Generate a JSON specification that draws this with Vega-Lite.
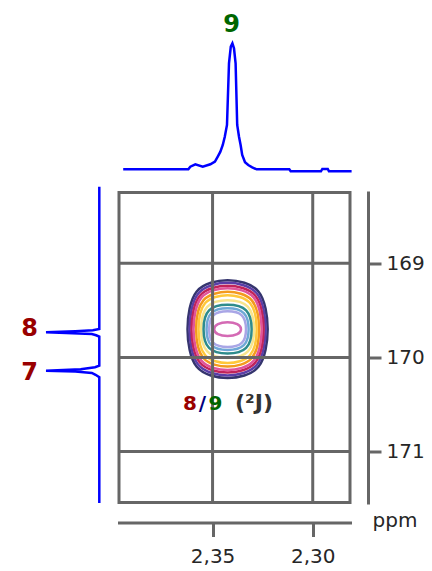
{
  "$schema": "https://vega.github.io/schema/vega-lite/v6.json",
  "padding": 0,
  "autosize": {"type": "pad"},
  "background": "white",
  "config": {
    "view": {"stroke": null},
    "axis": {
      "domainColor": "#666666", "domainWidth": 3, "domainCap": "square",
      "tickColor": "#666666", "tickWidth": 3,
      "labelColor": "#262626", "labelFont": "DejaVu Sans", "labelFontSize": 20,
      "titleColor": "#262626", "titleFont": "DejaVu Sans", "titleFontSize": 20, "titleFontWeight": "normal",
      "labelFlush": false, "labelOverlap": false, "labelBound": false
    }
  },
  "datasets": {
    "top": [
      {"ppm": 2.3946, "i": 0}, {"ppm": 2.3621, "i": 0}, {"ppm": 2.3611, "i": 0.021}, {"ppm": 2.3586, "i": 0.040},
      {"ppm": 2.3549, "i": 0.021}, {"ppm": 2.3511, "i": 0.040}, {"ppm": 2.3488, "i": 0.061}, {"ppm": 2.3474, "i": 0.101},
      {"ppm": 2.3461, "i": 0.140}, {"ppm": 2.3449, "i": 0.193}, {"ppm": 2.3439, "i": 0.259}, {"ppm": 2.3428, "i": 0.352},
      {"ppm": 2.3418, "i": 0.841}, {"ppm": 2.3409, "i": 0.974}, {"ppm": 2.3401, "i": 1.0}, {"ppm": 2.3393, "i": 0.960},
      {"ppm": 2.3385, "i": 0.841}, {"ppm": 2.3377, "i": 0.352}, {"ppm": 2.3368, "i": 0.259}, {"ppm": 2.3360, "i": 0.193},
      {"ppm": 2.3352, "i": 0.114}, {"ppm": 2.3338, "i": 0.056}, {"ppm": 2.3322, "i": 0.034}, {"ppm": 2.3302, "i": 0.016},
      {"ppm": 2.3280, "i": 0}, {"ppm": 2.3117, "i": 0}, {"ppm": 2.3110, "i": -0.016}, {"ppm": 2.2959, "i": -0.016},
      {"ppm": 2.2952, "i": 0.003}, {"ppm": 2.2925, "i": 0.003}, {"ppm": 2.2919, "i": -0.016}, {"ppm": 2.2806, "i": -0.016}
    ],
    "left": [
      {"c": 168.19, "i": 0}, {"c": 169.699, "i": 0}, {"c": 169.712, "i": 0.12}, {"c": 169.722, "i": 0.45},
      {"c": 169.733, "i": 1.0}, {"c": 169.742, "i": 0.62}, {"c": 169.752, "i": 0.14}, {"c": 169.765, "i": 0.06},
      {"c": 169.780, "i": 0}, {"c": 170.088, "i": 0}, {"c": 170.105, "i": 0.08}, {"c": 170.125, "i": 0.35},
      {"c": 170.141, "i": 1.0}, {"c": 170.150, "i": 0.45}, {"c": 170.165, "i": 0.14}, {"c": 170.185, "i": 0.07},
      {"c": 170.211, "i": 0}, {"c": 171.546, "i": 0}
    ],
    "contours": [
      {"ring": "r01", "k": 0, "h": 2.3625, "c": 169.700}, {"ring": "r01", "k": 1, "h": 2.3579, "c": 170.100},
      {"ring": "r01", "k": 2, "h": 2.3425, "c": 170.219}, {"ring": "r01", "k": 3, "h": 2.3271, "c": 170.100},
      {"ring": "r01", "k": 4, "h": 2.3225, "c": 169.700}, {"ring": "r01", "k": 5, "h": 2.3271, "c": 169.300},
      {"ring": "r01", "k": 6, "h": 2.3425, "c": 169.181}, {"ring": "r01", "k": 7, "h": 2.3579, "c": 169.300},
      {"ring": "r02", "k": 0, "h": 2.3615, "c": 169.700}, {"ring": "r02", "k": 1, "h": 2.35713, "c": 170.0788},
      {"ring": "r02", "k": 2, "h": 2.3425, "c": 170.192}, {"ring": "r02", "k": 3, "h": 2.32787, "c": 170.0788},
      {"ring": "r02", "k": 4, "h": 2.3235, "c": 169.700}, {"ring": "r02", "k": 5, "h": 2.32787, "c": 169.3212},
      {"ring": "r02", "k": 6, "h": 2.3425, "c": 169.208}, {"ring": "r02", "k": 7, "h": 2.35713, "c": 169.3212},
      {"ring": "r03", "k": 0, "h": 2.3605, "c": 169.700}, {"ring": "r03", "k": 1, "h": 2.35636, "c": 170.0542},
      {"ring": "r03", "k": 2, "h": 2.3425, "c": 170.160}, {"ring": "r03", "k": 3, "h": 2.32864, "c": 170.0542},
      {"ring": "r03", "k": 4, "h": 2.3245, "c": 169.700}, {"ring": "r03", "k": 5, "h": 2.32864, "c": 169.3458},
      {"ring": "r03", "k": 6, "h": 2.3425, "c": 169.240}, {"ring": "r03", "k": 7, "h": 2.35636, "c": 169.3458},
      {"ring": "r04", "k": 0, "h": 2.3595, "c": 169.700}, {"ring": "r04", "k": 1, "h": 2.35559, "c": 170.0342},
      {"ring": "r04", "k": 2, "h": 2.3425, "c": 170.134}, {"ring": "r04", "k": 3, "h": 2.32941, "c": 170.0342},
      {"ring": "r04", "k": 4, "h": 2.3255, "c": 169.700}, {"ring": "r04", "k": 5, "h": 2.32941, "c": 169.3658},
      {"ring": "r04", "k": 6, "h": 2.3425, "c": 169.266}, {"ring": "r04", "k": 7, "h": 2.35559, "c": 169.3658},
      {"ring": "r05", "k": 0, "h": 2.3582, "c": 169.700}, {"ring": "r05", "k": 1, "h": 2.35459, "c": 170.0057},
      {"ring": "r05", "k": 2, "h": 2.3425, "c": 170.097}, {"ring": "r05", "k": 3, "h": 2.33041, "c": 170.0057},
      {"ring": "r05", "k": 4, "h": 2.3268, "c": 169.700}, {"ring": "r05", "k": 5, "h": 2.33041, "c": 169.3943},
      {"ring": "r05", "k": 6, "h": 2.3425, "c": 169.303}, {"ring": "r05", "k": 7, "h": 2.35459, "c": 169.3943},
      {"ring": "r06", "k": 0, "h": 2.3570, "c": 169.700}, {"ring": "r06", "k": 1, "h": 2.35367, "c": 169.9772},
      {"ring": "r06", "k": 2, "h": 2.3425, "c": 170.060}, {"ring": "r06", "k": 3, "h": 2.33133, "c": 169.9772},
      {"ring": "r06", "k": 4, "h": 2.3280, "c": 169.700}, {"ring": "r06", "k": 5, "h": 2.33133, "c": 169.4228},
      {"ring": "r06", "k": 6, "h": 2.3425, "c": 169.340}, {"ring": "r06", "k": 7, "h": 2.35367, "c": 169.4228},
      {"ring": "r07", "k": 0, "h": 2.3557, "c": 169.700}, {"ring": "r07", "k": 1, "h": 2.35266, "c": 169.9364},
      {"ring": "r07", "k": 2, "h": 2.3425, "c": 170.007}, {"ring": "r07", "k": 3, "h": 2.33234, "c": 169.9364},
      {"ring": "r07", "k": 4, "h": 2.3293, "c": 169.700}, {"ring": "r07", "k": 5, "h": 2.33234, "c": 169.4636},
      {"ring": "r07", "k": 6, "h": 2.3425, "c": 169.393}, {"ring": "r07", "k": 7, "h": 2.35266, "c": 169.4636},
      {"ring": "r08", "k": 0, "h": 2.3545, "c": 169.700}, {"ring": "r08", "k": 1, "h": 2.35174, "c": 169.8994},
      {"ring": "r08", "k": 2, "h": 2.3425, "c": 169.959}, {"ring": "r08", "k": 3, "h": 2.33326, "c": 169.8994},
      {"ring": "r08", "k": 4, "h": 2.3305, "c": 169.700}, {"ring": "r08", "k": 5, "h": 2.33326, "c": 169.5006},
      {"ring": "r08", "k": 6, "h": 2.3425, "c": 169.441}, {"ring": "r08", "k": 7, "h": 2.35174, "c": 169.5006},
      {"ring": "r09", "k": 0, "h": 2.3530, "c": 169.700}, {"ring": "r09", "k": 1, "h": 2.35059, "c": 169.8709},
      {"ring": "r09", "k": 2, "h": 2.3425, "c": 169.922}, {"ring": "r09", "k": 3, "h": 2.33441, "c": 169.8709},
      {"ring": "r09", "k": 4, "h": 2.3320, "c": 169.700}, {"ring": "r09", "k": 5, "h": 2.33441, "c": 169.5291},
      {"ring": "r09", "k": 6, "h": 2.3425, "c": 169.478}, {"ring": "r09", "k": 7, "h": 2.35059, "c": 169.5291},
      {"ring": "r10", "k": 0, "h": 2.3517, "c": 169.700}, {"ring": "r10", "k": 1, "h": 2.34958, "c": 169.8463},
      {"ring": "r10", "k": 2, "h": 2.3425, "c": 169.890}, {"ring": "r10", "k": 3, "h": 2.33542, "c": 169.8463},
      {"ring": "r10", "k": 4, "h": 2.3333, "c": 169.700}, {"ring": "r10", "k": 5, "h": 2.33542, "c": 169.5537},
      {"ring": "r10", "k": 6, "h": 2.3425, "c": 169.510}, {"ring": "r10", "k": 7, "h": 2.34958, "c": 169.5537},
      {"ring": "r11", "k": 0, "h": 2.3492, "c": 169.700}, {"ring": "r11", "k": 1, "h": 2.34732, "c": 169.7533},
      {"ring": "r11", "k": 2, "h": 2.3425, "c": 169.774}, {"ring": "r11", "k": 3, "h": 2.33768, "c": 169.7533},
      {"ring": "r11", "k": 4, "h": 2.3358, "c": 169.700}, {"ring": "r11", "k": 5, "h": 2.33768, "c": 169.6467},
      {"ring": "r11", "k": 6, "h": 2.3425, "c": 169.626}, {"ring": "r11", "k": 7, "h": 2.34732, "c": 169.6467}
    ],
    "gridV": [{"h": 2.35}, {"h": 2.30}],
    "gridH": [{"c": 169}, {"c": 170}, {"c": 171}]
  },
  "columns": 2,
  "spacing": {"row": 12.5, "column": 10},
  "bounds": "flush",
  "concat": [
    {
      "width": 109, "height": 180,
      "data": {"values": []},
      "mark": "point"
    },
    {
      "width": 231, "height": 180,
      "encoding": {
        "x": {"field": "ppm", "type": "quantitative", "scale": {"domain": [2.2814, 2.3967], "reverse": true, "nice": false, "zero": false}, "axis": null},
        "y": {"field": "i", "type": "quantitative", "scale": {"domain": [-0.0849, 1.3437], "nice": false, "zero": false}, "axis": null}
      },
      "layer": [
        {"data": {"name": "top"}, "mark": {"type": "line", "color": "#0000ff", "strokeWidth": 2.5}},
        {"data": {"values": [{"label": "9", "ppm": 2.3405, "i": 1.087}]},
         "mark": {"type": "text", "font": "DejaVu Sans", "fontWeight": "bold", "fontSize": 24, "color": "#006600", "align": "center", "baseline": "alphabetic"},
         "encoding": {"text": {"field": "label"}}}
      ]
    },
    {
      "width": 109, "height": 310,
      "encoding": {
        "x": {"field": "i", "type": "quantitative", "scale": {"domain": [-0.182, 1.863], "reverse": true, "nice": false, "zero": false}, "axis": null},
        "y": {"field": "c", "type": "quantitative", "scale": {"domain": [168.25, 171.54], "reverse": true, "nice": false, "zero": false}, "axis": null}
      },
      "layer": [
        {"data": {"name": "left"}, "mark": {"type": "line", "color": "#0000ff", "strokeWidth": 2.5},
         "encoding": {"order": {"field": "c", "type": "quantitative"}}},
        {"data": {"values": [{"label": "8", "i": 1.306, "c": 169.770}, {"label": "7", "i": 1.306, "c": 170.240}]},
         "mark": {"type": "text", "font": "DejaVu Sans", "fontWeight": "bold", "fontSize": 24, "color": "#990000", "align": "center", "baseline": "alphabetic"},
         "encoding": {"text": {"field": "label"}}}
      ]
    },
    {
      "width": 231, "height": 310,
      "view": {"stroke": "#666666", "strokeWidth": 3},
      "layer": [
        {"data": {"name": "contours"},
         "mark": {"type": "line", "interpolate": "cardinal-closed", "strokeWidth": 2.5},
         "encoding": {
           "x": {"field": "h", "type": "quantitative", "scale": {"domain": [2.2814, 2.3967], "reverse": true, "nice": false, "zero": false},
                 "axis": {"orient": "bottom", "offset": 20, "values": [2.35, 2.3], "labelExpr": "replace(format(datum.value, '.2f'), '.', ',')", "grid": false, "title": "ppm", "titleX": 253, "titleY": 4, "titleAlign": "left", "titleBaseline": "alphabetic", "tickSize": 14, "labelPadding": 10}},
           "y": {"field": "c", "type": "quantitative", "scale": {"domain": [168.25, 171.54], "reverse": true, "nice": false, "zero": false},
                 "axis": {"orient": "right", "offset": 18, "values": [169, 170, 171], "format": "d", "grid": false, "title": null, "tickSize": 13, "labelPadding": 5}},
           "color": {"field": "ring", "type": "nominal", "legend": null,
                     "scale": {"domain": ["r01","r02","r03","r04","r05","r06","r07","r08","r09","r10","r11"],
                               "range": ["#35356e","#5a3fa8","#c0245a","#e0559a","#f39a1e","#ffc83a","#f7e48c","#2e8c8c","#6fa8d6","#a9a6e6","#d46ab4"]}},
           "order": {"field": "k", "type": "quantitative"}
         }},
        {"data": {"name": "gridV"},
         "mark": {"type": "rule", "color": "#666666", "strokeWidth": 3},
         "encoding": {
           "x": {"field": "h", "type": "quantitative", "scale": {"domain": [2.2814, 2.3967], "reverse": true, "nice": false, "zero": false},
                 "axis": {"orient": "bottom", "offset": 20, "values": [2.35, 2.3], "labelExpr": "replace(format(datum.value, '.2f'), '.', ',')", "grid": false, "title": "ppm", "titleX": 253, "titleY": 4, "titleAlign": "left", "titleBaseline": "alphabetic", "tickSize": 14, "labelPadding": 10}}
         }},
        {"data": {"name": "gridH"},
         "mark": {"type": "rule", "color": "#666666", "strokeWidth": 3},
         "encoding": {
           "y": {"field": "c", "type": "quantitative", "scale": {"domain": [168.25, 171.54], "reverse": true, "nice": false, "zero": false},
                 "axis": {"orient": "right", "offset": 18, "values": [169, 170, 171], "format": "d", "grid": false, "title": null, "tickSize": 13, "labelPadding": 5}}
         }},
        {"data": {"values": [{"t": "8", "h": 2.36126, "c": 170.553}]},
         "mark": {"type": "text", "font": "DejaVu Sans", "fontWeight": "bold", "fontSize": 20, "color": "#990000", "align": "center", "baseline": "alphabetic"},
         "encoding": {"x": {"field": "h", "type": "quantitative"}, "y": {"field": "c", "type": "quantitative"}, "text": {"field": "t"}}},
        {"data": {"values": [{"t": "/", "h": 2.35502, "c": 170.553}]},
         "mark": {"type": "text", "font": "DejaVu Sans", "fontWeight": "bold", "fontSize": 20, "color": "#000080", "align": "center", "baseline": "alphabetic"},
         "encoding": {"x": {"field": "h", "type": "quantitative"}, "y": {"field": "c", "type": "quantitative"}, "text": {"field": "t"}}},
        {"data": {"values": [{"t": "9", "h": 2.34853, "c": 170.553}]},
         "mark": {"type": "text", "font": "DejaVu Sans", "fontWeight": "bold", "fontSize": 20, "color": "#006600", "align": "center", "baseline": "alphabetic"},
         "encoding": {"x": {"field": "h", "type": "quantitative"}, "y": {"field": "c", "type": "quantitative"}, "text": {"field": "t"}}},
        {"data": {"values": [{"t": "(²J)", "h": 2.3293, "c": 170.553}]},
         "mark": {"type": "text", "font": "DejaVu Sans", "fontWeight": "bold", "fontSize": 22, "color": "#333333", "align": "center", "baseline": "alphabetic"},
         "encoding": {"x": {"field": "h", "type": "quantitative"}, "y": {"field": "c", "type": "quantitative"}, "text": {"field": "t"}}}
      ]
    }
  ]
}
